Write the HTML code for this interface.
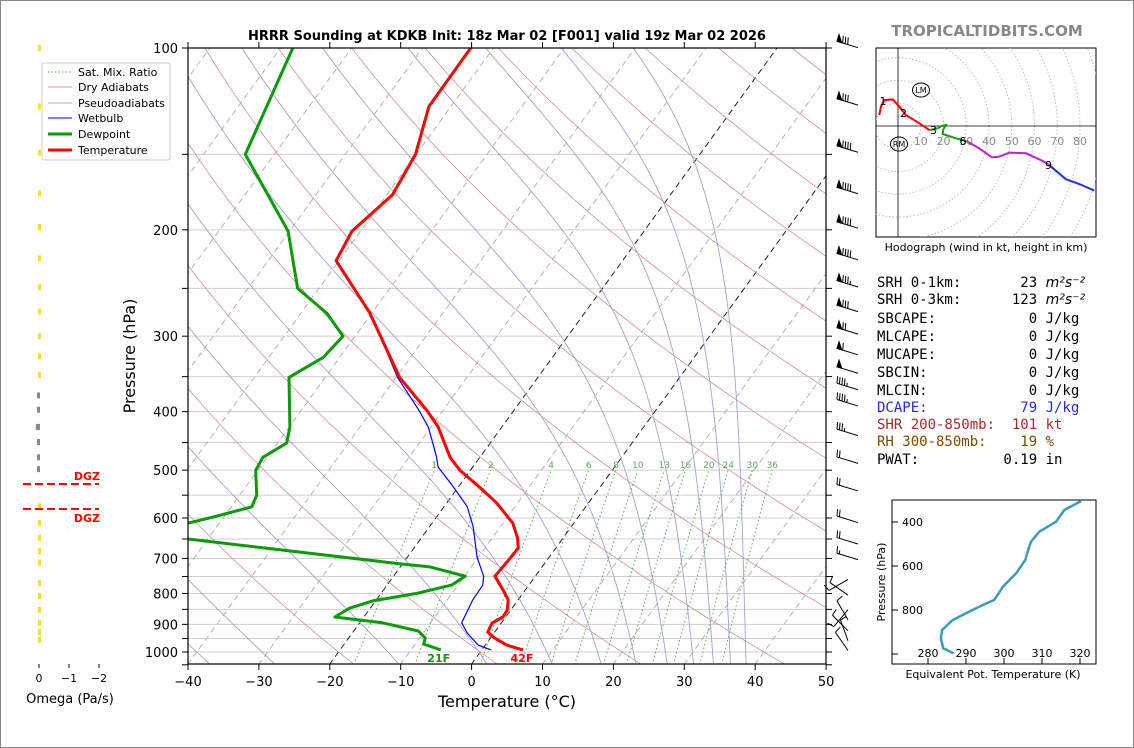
<!DOCTYPE html>
<html><head><meta charset="utf-8"><style>
html,body{margin:0;padding:0;background:#fff;}
svg{display:block;font-family:"DejaVu Sans","Liberation Sans",sans-serif;}
text{white-space:pre;}
</style></head><body>
<svg id="root" width="1134" height="748" viewBox="0 0 1134 748" xmlns="http://www.w3.org/2000/svg">
<rect x="0.5" y="0.5" width="1133" height="747" fill="#fff" stroke="#888"/>
<defs><clipPath id="mainclip"><rect x="188" y="48" width="638" height="616"/></clipPath>
<clipPath id="hodoclip"><rect x="876" y="48" width="220" height="189"/></clipPath>
<clipPath id="theclip"><rect x="892" y="500" width="204" height="164"/></clipPath></defs>
<text x="507" y="40" text-anchor="middle" font-size="13" font-weight="bold">HRRR Sounding at KDKB Init: 18z Mar 02 [F001] valid 19z Mar 02 2026</text>
<text x="987" y="36" text-anchor="middle" font-size="15" font-weight="bold" fill="#888">TROPICALTIDBITS.COM</text>
<g id="bg" clip-path="url(#mainclip)"></g>
<g id="prof" clip-path="url(#mainclip)"></g>
<g id="axes"></g>
<g id="barbs"></g>
<g id="omega"></g>
<g id="hodo"></g>
<g id="thetae"></g>
<g>
<rect x="42" y="63" width="128" height="97" fill="#fff" stroke="#ccc" rx="2"/>
<line x1="48" y1="72" x2="72" y2="72" stroke="#4a4" stroke-dasharray="1.5,2"/>
<text x="78" y="76" font-size="11">Sat. Mix. Ratio</text>
<line x1="48" y1="87" x2="72" y2="87" stroke="#d8a0a0"/>
<text x="78" y="91" font-size="11">Dry Adiabats</text>
<line x1="48" y1="103" x2="72" y2="103" stroke="#a8a8dc"/>
<text x="78" y="107" font-size="11">Pseudoadiabats</text>
<line x1="48" y1="118" x2="72" y2="118" stroke="#00f"/>
<text x="78" y="122" font-size="11">Wetbulb</text>
<line x1="48" y1="134" x2="72" y2="134" stroke="#0a9a0a" stroke-width="3"/>
<text x="78" y="138" font-size="11">Dewpoint</text>
<line x1="48" y1="150" x2="72" y2="150" stroke="#f00" stroke-width="3"/>
<text x="78" y="154" font-size="11">Temperature</text>
</g>
<g font-family="'DejaVu Sans Mono','Liberation Mono',monospace" font-size="14">
<text x="877" y="287">SRH 0-1km:       23 <tspan font-style="italic" font-family="DejaVu Sans">m²s⁻²</tspan></text>
<text x="877" y="304">SRH 0-3km:      123 <tspan font-style="italic" font-family="DejaVu Sans">m²s⁻²</tspan></text>
<text x="877" y="323">SBCAPE:           0 J/kg</text>
<text x="877" y="341">MLCAPE:           0 J/kg</text>
<text x="877" y="359">MUCAPE:           0 J/kg</text>
<text x="877" y="377">SBCIN:            0 J/kg</text>
<text x="877" y="395">MLCIN:            0 J/kg</text>
<text x="877" y="412" fill="#2a2ad8">DCAPE:           79 J/kg</text>
<text x="877" y="429" fill="#a52a2a">SHR 200-850mb:  101 kt</text>
<text x="877" y="446" fill="#7a4a00">RH 300-850mb:    19 %</text>
<text x="877" y="464">PWAT:          0.19 in</text>
</g>
</svg>
<script>
// ---- Sounding data (pressure hPa, temperature °C) ----
const tempP = [100,125,150,175,201,225,274,351,398,424,476,500,535,567,612,648,673,699,749,790,820,852,875,895,927,948,974,992];
const tempT = [-63.2,-63.1,-60.1,-59.2,-61.2,-60.4,-50.4,-39.5,-32.3,-29.0,-24.2,-21.5,-16.8,-12.9,-8.6,-6.4,-5.3,-5.4,-5.7,-3.1,-1.4,-0.5,-0.4,-1.3,-1.0,0.6,3.0,5.8];
const dewP = [100,150,201,250,275,300,325,351,424,451,476,500,550,575,598,612,628,650,715,723,749,775,799,823,846,875,895,923,948,970,992];
const dewT = [-88.3,-84.1,-70.2,-63.0,-56.3,-51.7,-52.3,-55.1,-49.9,-48.7,-50.6,-50.3,-47.6,-47.1,-51.5,-54.4,-70.0,-52.8,-20.1,-15.8,-9.9,-10.9,-14.8,-20.4,-22.9,-24.1,-16.7,-10.9,-9.2,-8.8,-5.8];
const wbP = [100,125,150,175,201,225,274,351,398,424,446,476,494,533,575,621,696,749,775,820,895,930,974,992];
const wbT = [-63.2,-63.1,-60.1,-59.2,-61.2,-60.4,-50.3,-39.8,-33.4,-30.4,-28.5,-26.1,-24.9,-20.7,-16.7,-13.8,-10.2,-7.3,-6.5,-6.4,-5.6,-3.8,-1.0,1.3];
// background line parameters
const isotherms = [-130,-120,-110,-100,-90,-80,-70,-60,-50,-40,-30,-20,-10,0,10,20,30,40,50];
const dryThetas = [-60,-40,-20,0,20,40,60,80,100,120,140,160,180,200,220,240];
const moistStarts = [-45,-27.6,-10.1,2.3,11.5,18.4,23.3,27.7,31.4,34.2,36.6,38.8];
const mixRatios = [1,2,4,6,8,10,13,16,20,24,30,36];
const pTicks = [100,200,300,400,500,600,700,800,900,1000];
const tTicks = [-40,-30,-20,-10,0,10,20,30,40,50];
// wind barbs
const barbP = [98,122,146,171,195,220,244,268,292,316,339,361,384,430,478,531,599,650,690,744,790,835,868,905,940,975];
const barbSpd = [80,80,90,90,90,90,85,80,70,60,50,45,45,35,20,20,20,20,15,10,10,10,10,10,10,10];
const barbAng = [197,197,197,197,197,197,197,197,197,197,197,197,197,197,197,197,197,197,197,150,215,130,240,225,250,235];
// omega (Pa/s)
const omegaP = [100,125,149,174,198,223,249,273,300,324,348,376,397,424,449,476,498,574,611,647,681,711,769,808,852,895,927,954];
const omegaV = [-0.02,-0.1,-0.1,-0.08,-0.04,-0.03,-0.05,-0.08,-0.1,-0.08,-0.02,0.04,0.08,0.14,0.1,0.08,0.04,-0.08,-0.1,-0.08,-0.06,-0.03,-0.01,-0.02,-0.05,-0.1,-0.1,-0.1];
// hodograph (kt)
const hodoU1 = [-8.2,-7.5,-6,-2.3,0.6,3.5,9.4,13.8];
const hodoV1 = [4.8,8.5,11.4,11.7,8.5,4.8,1.2,-1.8];
const hodoU2 = [13.8,17.4,19.3,21.1,19.9,19.6,25.5,28.4,30.6];
const hodoV2 = [-1.8,-1,0,0.4,-1.5,-3.5,-5.4,-6.2,-6.9];
const hodoU3 = [30.6,35.7,41.3,44.5,48.9,56.3,64.3,67.3];
const hodoV3 = [-6.9,-9.8,-13.8,-13.5,-11.7,-12,-15.7,-17.9];
const hodoU4 = [67.3,73.8,79.7,86.3];
const hodoV4 = [-17.9,-23.4,-25.5,-28.4];
const hodoRings = [10,20,30,40,50,60,70,80,90,100];
// theta-e
const thetaP = [304.5,345.5,398.6,444,489.5,535,572.7,633.2,694,724,754.5,777.3,815,845.5,891,928.6,974,996.8];
const thetaV = [320.3,315.9,313.7,309.3,307.1,306.2,305.6,303.2,299.7,298.6,297.4,294.4,290,286.5,283.7,283.4,284,286.7];

const NS='http://www.w3.org/2000/svg';
function mk(tag, attrs, parent){const e=document.createElementNS(NS,tag);for(const k in attrs)e.setAttribute(k,attrs[k]);parent.appendChild(e);return e;}
const yP=p=>48+604*Math.log10(p/100);
const xT=(T,p)=>188+(T+40)*7.09+0.726*(664-yP(p));
const pts=(P,T)=>P.map((p,i)=>xT(T[i],p).toFixed(1)+','+yP(p).toFixed(1)).join(' ');
const bg=document.getElementById('bg'), prof=document.getElementById('prof'), ax=document.getElementById('axes');

// grid
for(let p=100;p<=1050;p+=50){
  const l=mk('line',{x1:188,x2:826,y1:yP(p),y2:yP(p),stroke:'#cfcfcf','stroke-width':1},bg);
  
  
}
isotherms.forEach(T=>{
  const blk=(T===0||T===-20);
  const l=mk('line',{x1:xT(T,1050),y1:yP(1050),x2:xT(T,100),y2:yP(100),stroke:blk?'#222':'#aaa','stroke-width':blk?1:0.9,'stroke-dasharray':'6,4'},bg);
  
  
});
dryThetas.forEach(th=>{
  const P=[],T=[];
  for(let p=1050;p>=100;p-=10){P.push(p);T.push((th+273.15)*Math.pow(p/1000,0.286)-273.15);}
  const l=mk('polyline',{points:pts(P,T),fill:'none',stroke:'#d69090','stroke-width':0.8},bg);
  
  
});
function es(T){return 6.112*Math.exp(17.67*T/(T+243.5));}
function dTdp(t,p){const e=es(t-273.15), rs=0.622*e/Math.max(p-e,1);
  return (287*t+2.501e6*rs)/(p*(1005+2.501e6*2.501e6*rs*0.622/(287*t*t)));}
moistStarts.forEach(t0=>{
  const P=[],T=[];let t=t0+273.15;
  for(let p=1050;p>=100;p-=2){P.push(p);T.push(t-273.15);t-=2*dTdp(t,p);}
  const l=mk('polyline',{points:pts(P,T),fill:'none',stroke:'#a0a0d8','stroke-width':0.9},bg);
  
  
});
mixRatios.forEach(w=>{
  const P=[],T=[];
  for(let p=1050;p>=500;p-=10){const e=w*p/(622+w);const L=Math.log(e/6.112);P.push(p);T.push(243.5*L/(17.67-L));}
  const l=mk('polyline',{points:pts(P,T),fill:'none',stroke:'#4a4','stroke-width':0.9,'stroke-dasharray':'1.5,2.5'},bg);
  
  
  const tx=mk('text',{x:xT(T[T.length-1],500),y:yP(500)-2,'font-size':9,fill:'#5a5','text-anchor':'middle'},bg);
  tx.textContent=w;
  
  
});
// profiles
const wb=mk('polyline',{points:pts(wbP,wbT),fill:'none',stroke:'#00f','stroke-width':1.2},prof);


const dl=mk('polyline',{points:pts(dewP,dewT),fill:'none',stroke:'#0a9a0a','stroke-width':3,'stroke-linejoin':'round'},prof);


const tl=mk('polyline',{points:pts(tempP,tempT),fill:'none',stroke:'#f00','stroke-width':3,'stroke-linejoin':'round'},prof);


const sd=mk('text',{x:xT(dewT[dewT.length-1],dewP[dewP.length-1])-2,y:662,'font-size':11,'font-weight':'bold',fill:'#0a9a0a','text-anchor':'middle'},prof);
sd.textContent='21F';


const st=mk('text',{x:xT(tempT[tempT.length-1],tempP[tempP.length-1])-1,y:662,'font-size':11,'font-weight':'bold',fill:'#f00','text-anchor':'middle'},prof);
st.textContent='42F';


// axes
const fr=mk('rect',{x:188,y:48,width:638,height:616,fill:'none',stroke:'#000','stroke-width':1.2},ax);


for(let p=100;p<=1050;p+=50){
  mk('line',{x1:182,x2:188,y1:yP(p),y2:yP(p),stroke:'#000'},ax);
  mk('line',{x1:826,x2:832,y1:yP(p),y2:yP(p),stroke:'#000'},ax);
}
pTicks.forEach(p=>{
  const t=mk('text',{x:178,y:yP(p)+5,'font-size':13,'text-anchor':'end'},ax);
  t.textContent=p;
  
  
});
tTicks.forEach(T=>{
  const x=188+(T+40)*7.09;
  mk('line',{x1:x,x2:x,y1:664,y2:670,stroke:'#000'},ax);
  mk('line',{x1:x,x2:x,y1:42,y2:48,stroke:'#000'},ax);
  const t=mk('text',{x:x,y:686,'font-size':13,'text-anchor':'middle'},ax);
  t.textContent=(T<0?'\u2212'+(-T):T);
  
  
});
const xl=mk('text',{x:507,y:707,'font-size':16,'text-anchor':'middle'},ax);
xl.textContent='Temperature (°C)';


const yl=mk('text',{x:0,y:0,'font-size':16,'text-anchor':'middle',transform:'translate(135,356) rotate(-90)'},ax);
yl.textContent='Pressure (hPa)';


// barbs
const bgp=document.getElementById('barbs');
barbP.forEach((p,i)=>{
  const a=barbAng[i]*Math.PI/180, ux=Math.cos(a), uy=Math.sin(a);
  let nx=uy, ny=-ux; if(ny>0){nx=-nx;ny=-ny;}
  const bx=barbAng[i]===197?858:848, by=yP(p)+5;
  const g=mk('g',{stroke:'#000','stroke-width':1,fill:'#000'},bgp);
  
  
  const tx=bx+22*ux, ty=by+22*uy;
  mk('line',{x1:bx,y1:by,x2:tx,y2:ty},g);
  let s=barbSpd[i], pos=0;
  while(s>=50){
    const x0=tx-pos*ux,y0=ty-pos*uy;
    mk('polygon',{points:`${x0},${y0} ${x0+7*nx},${y0+7*ny} ${x0-5*ux},${y0-5*uy}`},g);
    pos+=6; s-=50;
  }
  while(s>=10){
    const x0=tx-pos*ux,y0=ty-pos*uy;
    mk('line',{x1:x0,y1:y0,x2:x0+7*nx+1.5*ux,y2:y0+7*ny+1.5*uy},g);
    pos+=2.6; s-=10;
  }
  if(s>=5){
    if(pos===0)pos=2.6;
    const x0=tx-pos*ux,y0=ty-pos*uy;
    mk('line',{x1:x0,y1:y0,x2:x0+3.5*nx+0.8*ux,y2:y0+3.5*ny+0.8*uy},g);
  }
});
// omega panel
const om=document.getElementById('omega');
omegaP.forEach((p,i)=>{
  const v=omegaV[i], w=Math.max(Math.abs(v)*30,3);
  const x=v<0?38:40-w;
  const r=mk('rect',{x:x,y:yP(p)-3,width:w,height:6,fill:v<0?'#f2e12a':'#888'},om);
  
  
});
[0,-1,-2].forEach(v=>{
  const x=39-v*30;
  mk('line',{x1:x,x2:x,y1:664,y2:668,stroke:'#000'},om);
  const t=mk('text',{x:x,y:682,'font-size':11,'text-anchor':'middle'},om);
  t.textContent=v===0?'0':'\u2212'+(-v);
  
  
});
[484,509].forEach((y,i)=>{
  const l=mk('line',{x1:23,x2:99,y1:y,y2:y,stroke:'#f00','stroke-width':2,'stroke-dasharray':'8,4'},om);
  
  
  const t=mk('text',{x:100,y:i===0?y-4:y+13,'font-size':11,'font-weight':'bold',fill:'#f00','text-anchor':'end'},om);
  t.textContent='DGZ';
  
  
});
const omt=mk('text',{x:70,y:703,'font-size':13,'text-anchor':'middle'},om);
omt.textContent='Omega (Pa/s)';


// hodograph
const hd=document.getElementById('hodo');
const hx=u=>898+u*2.275, hy=v=>126-v*2.275;
const hbox=mk('rect',{x:876,y:48,width:220,height:189,fill:'#fff',stroke:'#000'},hd);


const hg=mk('g',{'clip-path':'url(#hodoclip)'},hd);
hodoRings.forEach(r=>{
  const c=mk('circle',{cx:898,cy:126,r:r*2.275,fill:'none',stroke:'#bbb','stroke-dasharray':'1.5,2'},hg);
  
  
});
mk('line',{x1:876,x2:1096,y1:126,y2:126,stroke:'#000','stroke-width':0.8},hg);
mk('line',{x1:898,x2:898,y1:48,y2:237,stroke:'#000','stroke-width':0.8},hg);
hodoRings.slice(0,8).forEach(r=>{
  const t=mk('text',{x:hx(r),y:145,'font-size':11,fill:'#888','text-anchor':'middle'},hg);
  t.textContent=r;
  
  
});
[[hodoU1,hodoV1,'#f00','0-3km'],[hodoU2,hodoV2,'#1a9a1a','3-6km'],[hodoU3,hodoV3,'#c020c0','6-9km'],[hodoU4,hodoV4,'#2030f0','9km+']].forEach(s=>{
  const l=mk('polyline',{points:s[0].map((u,i)=>hx(u).toFixed(1)+','+hy(s[1][i]).toFixed(1)).join(' '),fill:'none',stroke:s[2],'stroke-width':2},hg);
  
  
});
[['1',883,105],['2',903.5,117],['3',933.5,134],['6',963,145],['9',1048.5,169]].forEach(d=>{
  const t=mk('text',{x:d[1],y:d[2],'font-size':11,'text-anchor':'middle'},hg);
  t.textContent=d[0];
  
  
});
[['LM',921,90],['RM',899,144]].forEach(d=>{
  mk('ellipse',{cx:d[1],cy:d[2],rx:8.5,ry:7,fill:'none',stroke:'#000'},hg);
  const t=mk('text',{x:d[1],y:d[2]+3,'font-size':8,'text-anchor':'middle'},hg);
  t.textContent=d[0];
  
  
});
const hcap=mk('text',{x:986,y:251,'font-size':11,'text-anchor':'middle'},hd);
hcap.textContent='Hodograph (wind in kt, height in km)';


// theta-e
const te=document.getElementById('thetae');
const ey=p=>522+(p-400)*0.22, ex=t=>928+(t-280)*3.8;
const tbox=mk('rect',{x:892,y:500,width:204,height:164,fill:'#fff',stroke:'#000'},te);


[400,600,800,1000].forEach(p=>{
  mk('line',{x1:892,x2:898,y1:ey(p),y2:ey(p),stroke:'#000'},te);
  if(p<1000){const t=mk('text',{x:902,y:ey(p)+4,'font-size':11},te);
  t.textContent=p;
  
  }
});
[280,290,300,310,320].forEach(v=>{
  mk('line',{x1:ex(v),x2:ex(v),y1:658,y2:664,stroke:'#000'},te);
  const t=mk('text',{x:ex(v),y:657,'font-size':11,'text-anchor':'middle'},te);
  t.textContent=v;
  
  
});
const tel=mk('polyline',{points:thetaP.map((p,i)=>ex(thetaV[i]).toFixed(1)+','+ey(p).toFixed(1)).join(' '),fill:'none',stroke:'#3a9db5','stroke-width':2.5,'clip-path':'url(#theclip)'},te);


const tex=mk('text',{x:993,y:678,'font-size':11,'text-anchor':'middle'},te);
tex.textContent='Equivalent Pot. Temperature (K)';


const tey=mk('text',{x:0,y:0,'font-size':11,'text-anchor':'middle',transform:'translate(885,582) rotate(-90)'},te);
tey.textContent='Pressure (hPa)';


</script>
</body></html>
